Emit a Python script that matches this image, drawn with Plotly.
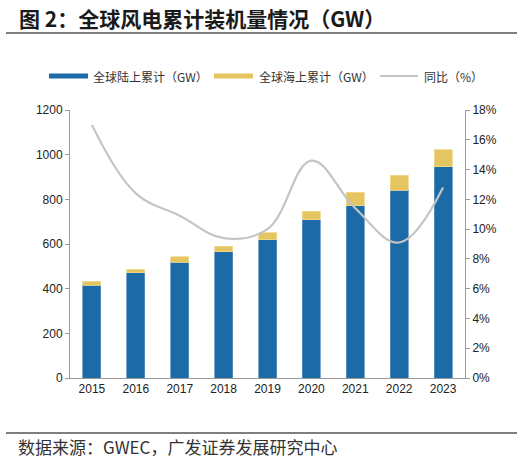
import plotly.graph_objects as go

years = ["2015", "2016", "2017", "2018", "2019", "2020", "2021", "2022", "2023"]
onshore = [416, 471, 519, 566, 618, 708, 772, 840, 946]
offshore = [18, 17, 23, 25, 32, 38, 60, 68, 76]
yoy = [17.0, 12.4, 10.9, 9.4, 10.0, 14.6, 11.4, 9.1, 12.8]

left_ticks = [0, 200, 400, 600, 800, 1000, 1200]
right_ticks = [0, 2, 4, 6, 8, 10, 12, 14, 16, 18]
right_labels = [f"{v}%" for v in right_ticks]

title_text = "图 2：全球风电累计装机量情况（GW）"
source_text = "数据来源：GWEC，广发证券发展研究中心"
names = ["全球陆上累计（GW）", "全球海上累计（GW）", "同比（%）"]

BLUE = "#1c6aa6"
YELLOW = "#e5c562"
GRAY = "#c4c4c4"
W, H = 529, 461
L, R, T, B = 70, 64, 110, 83
PW, PH = W - L - R, H - T - B

def px(x):
    return (x - L) / PW

def py(y):
    return (H - B - y) / PH

CJK = "Noto Sans CJK SC, Liberation Sans, Arial, sans-serif"
NUM = "Liberation Sans, Arial, sans-serif"

fig = go.Figure()
fig.add_trace(go.Bar(x=years, y=onshore, name=names[0], marker=dict(color=BLUE, line=dict(color="#5b95c4", width=0.8)), showlegend=False))
fig.add_trace(go.Bar(x=years, y=offshore, name=names[1], marker=dict(color=YELLOW, line=dict(color="#efd98f", width=0.8)), showlegend=False))
fig.add_trace(go.Scatter(x=years, y=yoy, name=names[2], yaxis="y2", mode="lines",
                         line=dict(color=GRAY, width=2.2, shape="spline", smoothing=1.1), showlegend=False))

shapes = []
annotations = []
shapes.append(dict(type="line", xref="paper", yref="paper", x0=px(6), x1=px(517), y0=py(33), y1=py(33), line=dict(color="#555", width=1.5)))
shapes.append(dict(type="line", xref="paper", yref="paper", x0=px(6), x1=px(517), y0=py(433), y1=py(433), line=dict(color="#555", width=1.5)))
annotations.append(dict(text="<b>" + title_text + "</b>", xref="paper", yref="paper", x=px(17), y=py(18), xanchor="left", yanchor="middle",
                        showarrow=False, font=dict(family=CJK, size=21, color="#1a1a1a")))
annotations.append(dict(text=source_text, xref="paper", yref="paper", x=px(16), y=py(446), xanchor="left", yanchor="middle",
                        showarrow=False, font=dict(family=CJK, size=17, color="#333")))

ly = 76
shapes.append(dict(type="rect", xref="paper", yref="paper", x0=px(49), x1=px(88), y0=py(73.5), y1=py(78.5), fillcolor=BLUE, line=dict(width=0)))
shapes.append(dict(type="rect", xref="paper", yref="paper", x0=px(214), x1=px(253), y0=py(73.5), y1=py(78.5), fillcolor=YELLOW, line=dict(width=0)))
shapes.append(dict(type="line", xref="paper", yref="paper", x0=px(380), x1=px(418), y0=py(76), y1=py(76), line=dict(color=GRAY, width=2)))
for x0, t in [(91, names[0]), (257, names[1]), (422, names[2])]:
    annotations.append(dict(text=t, xref="paper", yref="paper", x=px(x0), y=py(ly), xanchor="left", yanchor="middle",
                            showarrow=False, font=dict(family=CJK, size=12, color="#333")))

fig.update_layout(
    width=W, height=H,
    margin=dict(l=L, r=R, t=T, b=B),
    paper_bgcolor="white", plot_bgcolor="white",
    barmode="stack", bargap=0.59,
    showlegend=False,
    shapes=shapes, annotations=annotations,
    font=dict(family=NUM, size=12, color="#222"),
    xaxis=dict(type="category", range=[-0.5, 8.5], showline=True, linecolor="#999", linewidth=1,
               ticks="", showgrid=False, tickfont=dict(family=NUM, size=12, color="#222")),
    yaxis=dict(range=[0, 1200], tickvals=left_ticks, showline=True, linecolor="#999", linewidth=1,
               ticks="outside", ticklen=4, tickcolor="#999", showgrid=False, zeroline=False,
               tickfont=dict(family=NUM, size=12, color="#222")),
    yaxis2=dict(range=[0, 18], tickvals=right_ticks, ticktext=right_labels, overlaying="y", side="right",
                showline=True, linecolor="#999", linewidth=1, ticks="outside", ticklen=4, tickcolor="#999",
                showgrid=False, zeroline=False, tickfont=dict(family=NUM, size=12, color="#222")),
)

fig.write_html("out.html", config={"displayModeBar": False},
               post_script="document.body.style.margin='0';document.body.style.overflow='hidden';")
